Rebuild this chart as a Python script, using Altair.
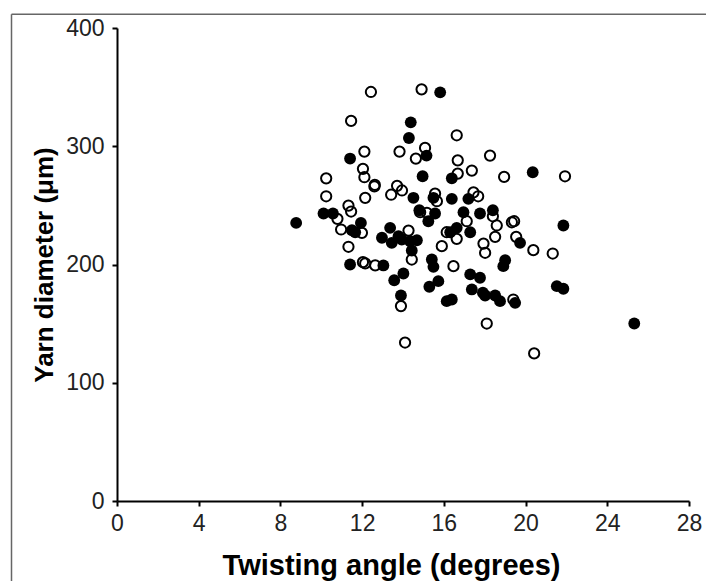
import altair as alt
import pandas as pd

# Open circles (twisting angle, yarn diameter)
open_x = [12.43, 14.91, 11.46, 16.63, 12.11, 13.83, 15.08, 14.63, 16.68, 18.26,
          10.24, 12.04, 12.11, 12.62, 12.60, 16.68, 17.37, 18.95, 21.93, 10.24,
          12.15, 13.42, 13.71, 13.95, 15.57, 15.66, 17.45, 17.68, 11.33, 11.46,
          10.79, 14.84, 15.17, 18.40, 18.59, 19.33, 19.44, 17.12, 16.14, 10.97,
          11.99, 14.27, 16.63, 18.51, 19.54, 15.90, 17.94, 18.02, 20.38, 21.33,
          11.33, 14.43, 12.04, 12.15, 12.64, 16.47, 19.40, 13.90, 18.10, 20.42,
          14.10]
open_y = [345.9, 348.1, 321.4, 309.3, 295.5, 295.5, 298.6, 289.6, 288.1, 292.1,
          272.9, 280.9, 273.8, 267.3, 266.0, 276.9, 279.4, 274.1, 274.6, 257.7,
          256.4, 259.0, 266.5, 262.6, 260.0, 253.5, 261.0, 257.7, 249.8, 244.8,
          238.6, 244.2, 243.7, 240.8, 233.0, 235.7, 236.6, 236.6, 227.3, 229.6,
          226.8, 228.7, 221.7, 223.4, 223.4, 215.5, 217.7, 209.9, 212.1, 209.3,
          215.0, 204.2, 202.0, 200.9, 199.2, 198.6, 170.4, 164.8, 150.1, 124.8,
          134.0]

# Filled circles
filled_x = [15.82, 14.38, 14.29, 11.41, 15.15, 14.96, 16.39, 20.35, 14.51, 15.49,
            16.39, 17.20, 14.80, 15.24, 15.57, 16.96, 17.77, 18.40, 21.85, 10.11,
            10.57, 8.77, 11.94, 11.50, 11.66, 13.37, 12.97, 13.45, 13.78, 13.94,
            14.35, 14.68, 16.63, 16.31, 17.29, 19.73, 14.43, 11.41, 13.04, 15.41,
            15.49, 19.00, 18.91, 14.02, 13.57, 17.29, 17.77, 15.73, 15.29, 17.37,
            17.91, 18.02, 18.51, 18.75, 19.49, 16.14, 16.39, 21.53, 21.85, 13.90,
            25.32]
filled_y = [345.6, 320.2, 307.0, 289.6, 292.1, 274.6, 272.9, 278.0, 256.4, 256.4,
            255.5, 255.5, 245.9, 236.6, 243.1, 244.2, 243.1, 245.9, 233.0, 243.1,
            243.1, 235.2, 235.2, 229.0, 227.3, 231.0, 222.6, 218.3, 223.9, 221.1,
            219.7, 220.5, 231.0, 227.3, 227.3, 218.3, 211.8, 200.0, 199.2, 204.2,
            198.0, 203.6, 198.6, 192.4, 186.7, 191.6, 188.8, 185.9, 181.2, 178.9,
            176.1, 173.8, 173.8, 169.0, 167.6, 169.0, 170.4, 181.7, 179.5, 173.8,
            150.1]

x_ticks = [0, 4, 8, 12, 16, 20, 24, 28]
y_ticks = [0, 100, 200, 300, 400]

df_open = pd.DataFrame({"angle": open_x, "diameter": open_y})
df_filled = pd.DataFrame({"angle": filled_x, "diameter": filled_y})

x_enc = alt.X(
    "angle:Q",
    scale=alt.Scale(domain=[0, 28], nice=False, zero=False),
    axis=alt.Axis(
        values=x_ticks, title="Twisting angle (degrees)", grid=False,
        domainColor="black", domainWidth=2, tickColor="black", tickWidth=2,
        tickSize=5, labelFont="Liberation Sans", labelFontSize=23, labelColor="#222222",
        labelPadding=6, labelFlush=False, titleFont="Liberation Sans", titleFontSize=29,
        titleFontWeight="bold", titleColor="black", titlePadding=16, titleX=274,
    ),
)
y_enc = alt.Y(
    "diameter:Q",
    scale=alt.Scale(domain=[0, 400], nice=False, zero=False),
    axis=alt.Axis(
        values=y_ticks, title="Yarn diameter (\u03bcm)", grid=False,
        domainColor="black", domainWidth=2, tickColor="black", tickWidth=2,
        tickSize=5, labelFont="Liberation Sans", labelFontSize=23, labelColor="#222222",
        labelPadding=8, labelFlush=False, titleFont="Liberation Sans", titleFontSize=26,
        titleFontWeight="bold", titleColor="black", titlePadding=8,
    ),
)

filled_layer = alt.Chart(df_filled).mark_point(
    shape="circle", filled=True, size=140, color="black", opacity=1
).encode(x=x_enc, y=y_enc)

open_layer = alt.Chart(df_open).mark_point(
    shape="circle", filled=False, size=105, color="black", strokeWidth=2, opacity=1
).encode(x="angle:Q", y="diameter:Q")

frame_df = pd.DataFrame({"k": [0]})
border_left = alt.Chart(frame_df).mark_rule(color="#666666", strokeWidth=1.5).encode(
    x=alt.value(-105.5), y=alt.value(-13.7), y2=alt.value(600)
)
border_top = alt.Chart(frame_df).mark_rule(color="#666666", strokeWidth=1.5).encode(
    x=alt.value(-105.5), x2=alt.value(620), y=alt.value(-13.7)
)

chart = alt.layer(filled_layer, open_layer, border_left, border_top).properties(
    width=572,
    height=473,
    background="white",
    autosize=alt.AutoSizeParams(type="none"),
    padding={"left": 117, "top": 28, "right": 17, "bottom": 80},
).configure_view(strokeWidth=0, stroke=None)

chart.save("out.html", embed_options={"renderer": "svg", "actions": False})
